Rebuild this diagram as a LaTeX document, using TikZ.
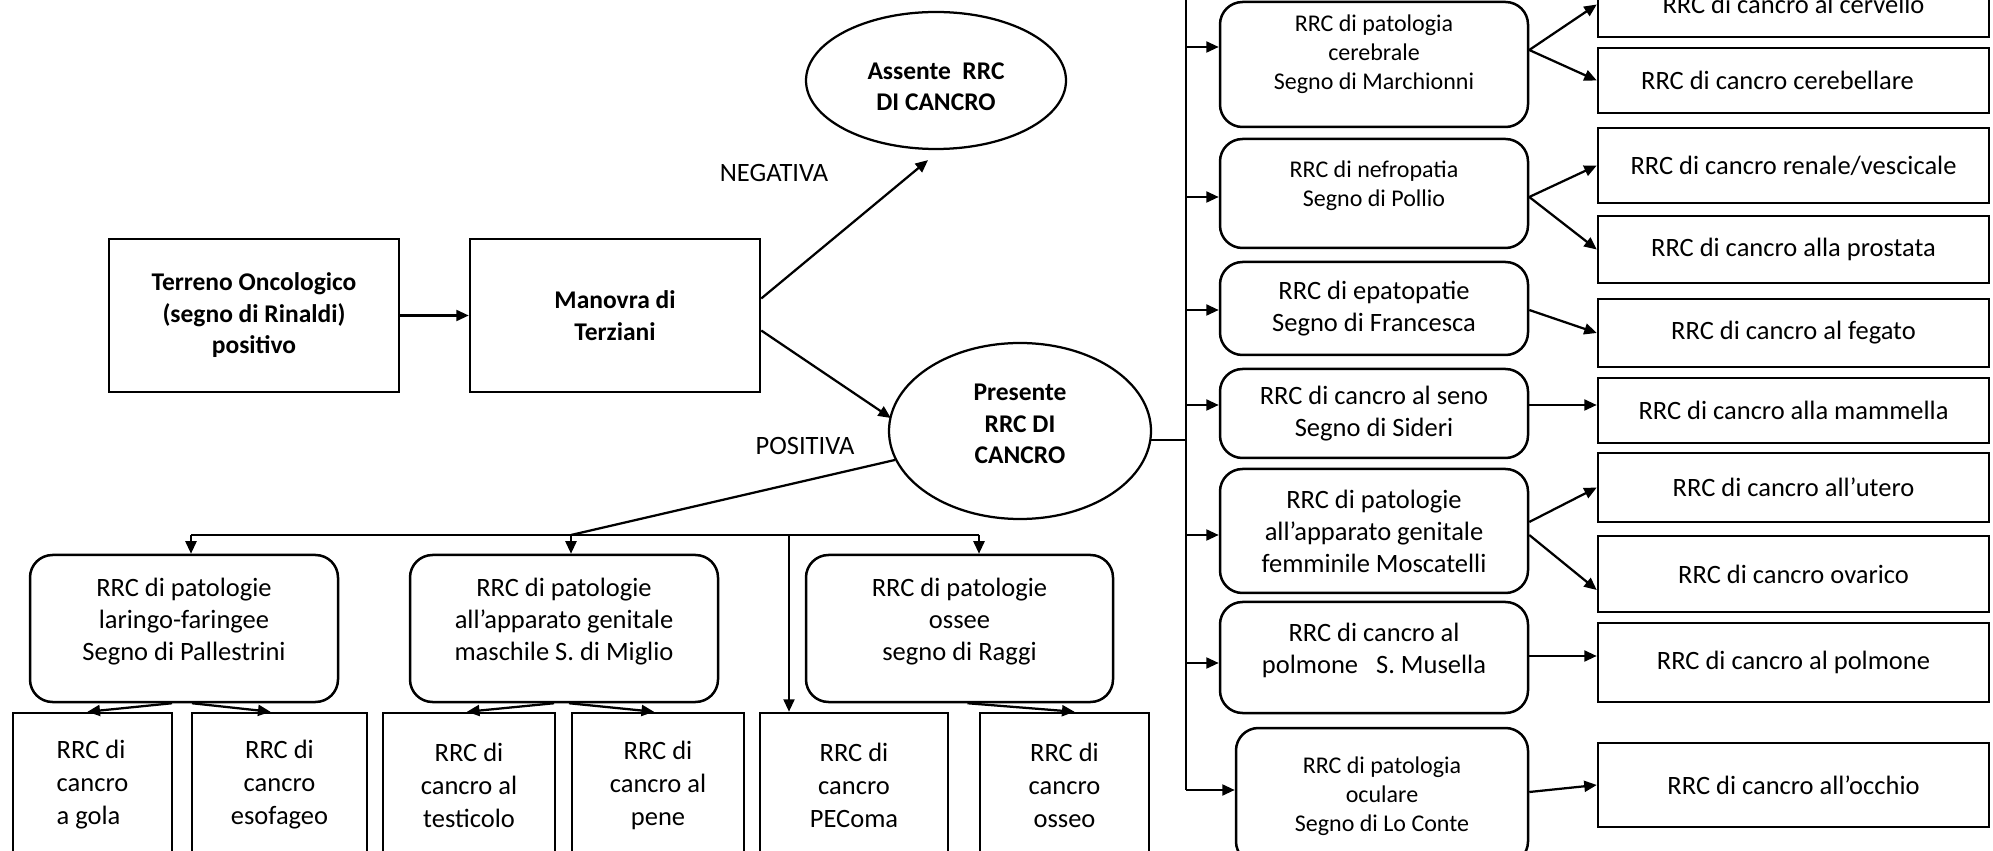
\documentclass[tikz,border=0pt]{standalone}
\usepackage{fontspec}
\setmainfont{Carlito}
\usetikzlibrary{arrows.meta,calc,shapes.geometric}
\newcommand\lowst[1]{\rule[-#1]{0pt}{0pt}}
\begin{document}
\begin{tikzpicture}[x=0.4pt,y=-0.4pt,
  every node/.style={font=\fontsize{10.6pt}{12.8pt}\selectfont, align=center, inner sep=0pt},
  rectbox/.style={draw, line width=1pt, rectangle},
  rbox/.style={draw, line width=1pt, rectangle, rounded corners=9pt},
  ell/.style={draw, line width=0.9pt, ellipse},
  smallf/.style={font=\fontsize{9.6pt}{11.6pt}\selectfont},
  boldf/.style={font=\bfseries\fontsize{10.2pt}{12.6pt}\selectfont},
  botf/.style={font=\fontsize{10.6pt}{13.2pt}\selectfont},
  conn/.style={line width=0.9pt},
  arr/.style={line width=0.9pt, -{Triangle[length=5pt,width=4.4pt]}},
  sz/.style 2 args={minimum width={#1*0.4pt}, minimum height={#2*0.4pt}}
]
\path[use as bounding box] (0,0) rectangle (1993,851);
\fill[white] (0,0) rectangle (1993,851);
\clip (0,0) rectangle (1993,851);

% main flow
\node[rectbox, sz={290}{153}, boldf] (ter) at (254,315.5) {Terreno Oncologico\\(segno di Rinaldi)\\positivo};
\node[rectbox, sz={290}{153}, boldf] (man) at (615,315.5) {Manovra di\\Terziani};
\node[ell, sz={260}{137}, boldf] (ass) at (936,80.5) {\rule{0pt}{11.8pt}Assente\ \ RRC\\DI CANCRO};
\node[ell, sz={262}{176}, boldf] (pres) at (1020,431) {Presente\\RRC DI\\CANCRO\lowst{5.6pt}};
\node (neg) at (774,173) {NEGATIVA};
\node (pos) at (805,446) {POSITIVA};

\draw[arr] (ter) -- (man);
\draw[arr] ($(man.east)+(0,-17)$) -- ($(ass.south)+(-8,10)$);
\draw[arr] ($(man.east)+(0,15)$) -- ($(pres.west)+(3,-13)$);

% right rounded boxes
\node[rbox, sz={308}{125}, smallf] (b1) at (1374,64.5) {RRC di patologia\\cerebrale\\Segno di Marchionni\lowst{10pt}};
\node[rbox, sz={308}{109}, smallf] (b2) at (1374,193.5) {RRC di nefropatia\\Segno di Pollio\lowst{7.6pt}};
\node[rbox, sz={308}{93}] (b3) at (1374,308.5) {RRC di epatopatie\\Segno di Francesca};
\node[rbox, sz={308}{89}] (b4) at (1374,413.5) {RRC di cancro al seno\\Segno di Sideri};
\node[rbox, sz={308}{124}] (b5) at (1374,531) {RRC di patologie\\all’apparato genitale\\femminile Moscatelli};
\node[rbox, sz={308}{111}] (b6) at (1374,657.5) {RRC di cancro al\\polmone\ \ \ S. Musella\lowst{7.2pt}};
\node[rbox, sz={292}{136}, smallf] (b7) at (1382,796) {RRC di patologia\\oculare\\Segno di Lo Conte};

% right rectangles
\node[rectbox, sz={391}{65}] (R1) at (1793.5,4.5) {RRC di cancro al cervello};
\node[rectbox, sz={391}{65}] (R2) at (1793.5,80.5) {RRC di cancro cerebellare\hspace*{12.8pt}};
\node[rectbox, sz={391}{75}] (R3) at (1793.5,165.5) {RRC di cancro renale/vescicale};
\node[rectbox, sz={391}{67}] (R4) at (1793.5,249.5) {RRC di cancro alla prostata};
\node[rectbox, sz={391}{68}] (R5) at (1793.5,333) {RRC di cancro al fegato};
\node[rectbox, sz={391}{65}] (R6) at (1793.5,410.5) {RRC di cancro alla mammella};
\node[rectbox, sz={391}{69}] (R7) at (1793.5,487.5) {RRC di cancro all’utero};
\node[rectbox, sz={391}{76}] (R8) at (1793.5,574) {RRC di cancro ovarico};
\node[rectbox, sz={391}{79}] (R9) at (1793.5,662.5) {RRC di cancro al polmone};
\node[rectbox, sz={391}{84}] (R10) at (1793.5,785) {RRC di cancro all’occhio};

% right bus
\coordinate (rT) at (1186,-10);
\coordinate (rB) at (1186,790);
\coordinate (rP) at (1186,440);
\coordinate (pE) at ($(pres.east)+(-1.5,9)$);
\draw[conn] (rT) -- (rB);
\draw[conn] (pE) -- (rP);
\draw[arr] (rB) -- (rB -| b7.west);
\coordinate (e1) at ($(b1.west)+(0,-17.5)$);
\coordinate (e2) at ($(b2.west)+(0,3.5)$);
\coordinate (e3) at ($(b3.west)+(0,1.5)$);
\coordinate (e4) at ($(b4.west)+(0,-8.5)$);
\coordinate (e5) at ($(b5.west)+(0,4)$);
\coordinate (e6) at ($(b6.west)+(0,5.5)$);
\foreach \e in {e1,e2,e3,e4,e5,e6} {\draw[arr] (\e -| rB) -- (\e);}

% rounded -> rectangles
\coordinate (s1) at ($(b1.east)+(0,-14.5)$);
\draw[arr] (s1) -- (R1.west);
\draw[arr] (s1) -- (R2.west);
\coordinate (s2) at ($(b2.east)+(0,3.5)$);
\draw[arr] (s2) -- (R3.west);
\draw[arr] (s2) -- (R4.west);
\coordinate (s3) at ($(b3.east)+(0,1.5)$);
\draw[arr] (s3) -- (R5.west);
\coordinate (s4) at ($(b4.east)+(0,-8.5)$);
\draw[arr] (s4) -- (s4 -| R6.west);
\coordinate (s5a) at ($(b5.east)+(0,-9)$);
\draw[arr] (s5a) -- (R7.west);
\coordinate (s5b) at ($(b5.east)+(0,4)$);
\draw[arr] (s5b) -- ($(R8.west)+(0,16)$);
\coordinate (s6) at ($(b6.east)+(0,-1.5)$);
\draw[arr] (s6) -- (s6 -| R9.west);
\coordinate (s7) at ($(b7.east)+(0,-4)$);
\draw[arr] (s7) -- (R10.west);

% bottom rounded boxes
\node[rbox, sz={308}{147}] (lar) at (184,628.5) {RRC di patologie\\laringo-faringee\\Segno di Pallestrini\lowst{7.6pt}};
\node[rbox, sz={308}{147}] (masc) at (564,628.5) {RRC di patologie\\all’apparato genitale\\maschile S. di Miglio\lowst{7.6pt}};
\node[rbox, sz={307}{147}] (oss) at (959.5,628.5) {RRC di patologie\\ossee\\segno di Raggi\lowst{7.6pt}};

% bottom rectangles
\node[rectbox, sz={159}{144}, botf, align=left] (gola) at (92.5,785) {RRC di\\cancro\hspace*{4.8pt}\\a gola};
\node[rectbox, sz={175}{144}, botf] (eso) at (279.5,785) {RRC di\\cancro\\esofageo};
\node[rectbox, sz={172}{144}, botf] (tes) at (469,785) {RRC di\\cancro al\\testicolo};
\node[rectbox, sz={172}{144}, botf] (pene) at (658,785) {RRC di\\cancro al\\pene};
\node[rectbox, sz={188}{144}, botf] (pec) at (854,785) {RRC di\\cancro\\PEComa};
\node[rectbox, sz={169}{144}, botf] (osso) at (1064.5,785) {RRC di\\cancro\\osseo};

% bottom bus
\coordinate (bA) at (191,535);
\coordinate (jL) at (571,535);
\coordinate (bP) at (789,535);
\coordinate (bO) at (979,535);
\draw[conn] (bA) -- (bO);
\draw[conn] (pres) -- (jL);
\draw[arr] (bA) -- (bA |- lar.north);
\draw[arr] (jL) -- (jL |- masc.north);
\draw[arr] (bP) -- (bP |- pec.north);
\draw[arr] (bO) -- (bO |- oss.north);

\draw[arr] ($(lar.south)+(-12,0)$) -- ($(gola.north)+(-5,0)$);
\draw[arr] ($(lar.south)+(8,0)$) -- ($(eso.north)+(-9,0)$);
\draw[arr] ($(masc.south)+(-10,0)$) -- ($(tes.north)+(-2,0)$);
\draw[arr] ($(masc.south)+(5,0)$) -- ($(pene.north)+(-4,0)$);
\draw[arr] ($(oss.south)+(8,0)$) -- ($(osso.north)+(10,0)$);
\end{tikzpicture}
\end{document}
